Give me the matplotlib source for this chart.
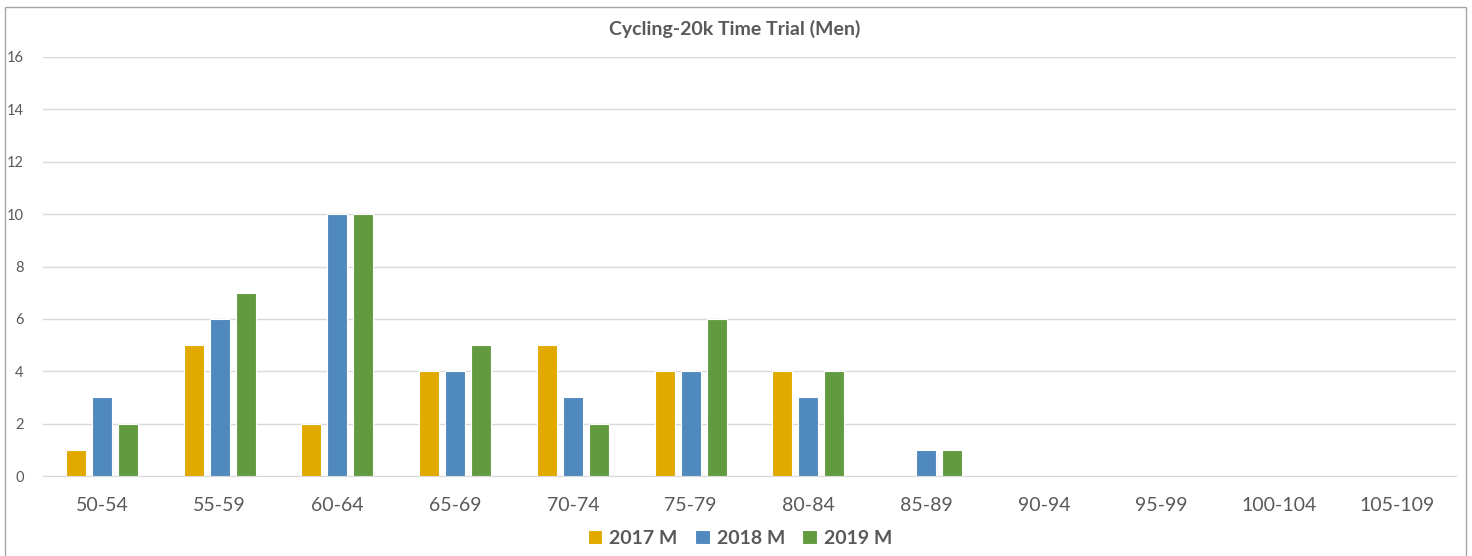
import matplotlib
matplotlib.use("Agg")
import matplotlib.pyplot as plt
from matplotlib.patches import Rectangle
import numpy as np

plt.rcParams['font.family'] = ['Lato', 'DejaVu Sans']

age_groups = ["50-54", "55-59", "60-64", "65-69", "70-74", "75-79",
              "80-84", "85-89", "90-94", "95-99", "100-104", "105-109"]
men_2017 = [1, 5, 2, 4, 5, 4, 4, 0, 0, 0, 0, 0]
men_2018 = [3, 6, 10, 4, 3, 4, 3, 1, 0, 0, 0, 0]
men_2019 = [2, 7, 10, 5, 2, 6, 4, 1, 0, 0, 0, 0]
series_names = ["2017 M", "2018 M", "2019 M"]
colors = ["#E2AA00", "#4F89BD", "#629B3F"]

W, H = 1472, 556
fig = plt.figure(figsize=(W / 100, H / 100), dpi=100)
ax = fig.add_axes([43 / W, 1 - 476 / H, (1456 - 43) / W, (476 - 57) / H])

x = np.arange(len(age_groups))
step = 0.22
bw = 0.17
for i, (vals, name, c) in enumerate(zip([men_2017, men_2018, men_2019], series_names, colors)):
    ax.bar(x + (i - 1) * step, vals, width=bw, color=c, edgecolor="white",
           linewidth=0.8, label=name, zorder=3)

ax.set_xlim(-0.5, len(age_groups) - 0.5)
ax.set_ylim(0, 16)
ax.set_yticks(range(0, 17, 2))
ax.set_xticks(x)
ax.set_xticklabels(age_groups)
ax.yaxis.grid(True, color="#D9D9D9", linewidth=1, zorder=0)
ax.tick_params(axis="both", length=0, colors="#595959")
ax.tick_params(axis="x", labelsize=14, pad=15)
ax.tick_params(axis="y", labelsize=10.5, pad=14)
for s in ["top", "right", "left"]:
    ax.spines[s].set_visible(False)
ax.spines["bottom"].set_color("#D9D9D9")

fig.text(735 / W, 1 - 29 / H, "Cycling-20k Time Trial (Men)", ha="center", va="center",
         fontsize=14, fontweight="bold", color="#595959")

fig.legend(loc="center", bbox_to_anchor=(740 / W, 1 - 538 / H), ncol=3, frameon=False,
           prop={"size": 14, "weight": "bold"}, labelcolor="#595959",
           handlelength=0.75, handleheight=0.75, handletextpad=0.35, columnspacing=0.9)

fig.patches.append(Rectangle((5 / W, -0.1), (1466 - 5) / W, 1.1 - 7 / H,
                             transform=fig.transFigure, fill=False,
                             edgecolor="#A6A6A6", linewidth=1))

fig.savefig("out.png", dpi=100)
